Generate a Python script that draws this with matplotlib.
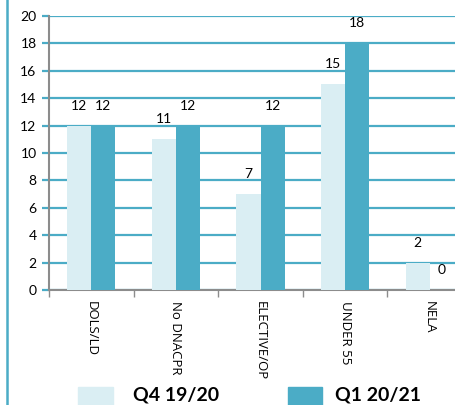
import matplotlib
matplotlib.use('Agg')
import matplotlib.pyplot as plt
import numpy as np
from matplotlib.patches import Rectangle
from matplotlib.lines import Line2D

categories = ['DOLS/LD', 'No DNACPR', 'ELECTIVE/OP', 'UNDER 55', 'NELA']
q4_1920 = [12, 11, 7, 15, 2]
q1_2021 = [12, 12, 12, 18, 0]
series_names = ['Q4 19/20', 'Q1 20/21']

light = '#DAEEF3'
dark = '#4BACC6'
grey = '#8C8C8C'
plt.rcParams['font.family'] = ['Lato', 'DejaVu Sans']

fig = plt.figure(figsize=(4.56, 4.05), dpi=100)
ax = fig.add_axes([49/456, 115/405, 423/456, 274/405])

ind = np.arange(len(categories))
width = 0.285
b1 = ax.bar(ind - width/2, q4_1920, width, color=light, zorder=3)
b2 = ax.bar(ind + width/2, q1_2021, width, color=dark, zorder=3)

for rects, vals in ((b1, q4_1920), (b2, q1_2021)):
    for r, v in zip(rects, vals):
        ax.annotate(str(v), (r.get_x() + r.get_width()/2, v), xytext=(0, 14),
                    textcoords='offset pixels', ha='center', va='bottom', fontsize=10)

ax.set_xlim(-0.5, len(categories) - 0.5)
ax.set_ylim(0, 20)
ax.set_yticks(range(0, 21, 2))
ax.yaxis.grid(True, color=dark, linewidth=1.6, zorder=0)
ax.set_axisbelow(True)

ax.set_xticks(ind)
ax.set_xticklabels(categories, rotation=270, fontsize=9.5, va='top', ha='center',
                   family=['Open Sans', 'DejaVu Sans'])
ax.set_xticks(np.arange(-0.5, len(categories), 1), minor=True)
ax.tick_params(axis='x', which='major', length=0, pad=8)
ax.tick_params(axis='x', which='minor', length=5, color=grey, width=1)
ax.tick_params(axis='y', length=5, color=dark, width=1.6, labelsize=10, pad=4)

for s in ('top', 'right'):
    ax.spines[s].set_visible(False)
ax.spines['left'].set_color(grey)
ax.spines['bottom'].set_color(grey)
ax.spines['left'].set_linewidth(1.5)
ax.spines['bottom'].set_linewidth(1.5)

# outer frame line on the left
fig.add_artist(Line2D([7/456, 7/456], [0, 1], color=dark, linewidth=1.8))

# legend drawn by hand
fig.add_artist(Rectangle((78/456, -0.01), 35/456, 22/405, color=light))
fig.text(133/456, 10/405, series_names[0], fontsize=14, fontweight='bold', va='center')
fig.add_artist(Rectangle((288/456, -0.01), 34/456, 22/405, color=dark))
fig.text(335/456, 10/405, series_names[1], fontsize=14, fontweight='bold', va='center')

plt.savefig('out.png', facecolor='w')
